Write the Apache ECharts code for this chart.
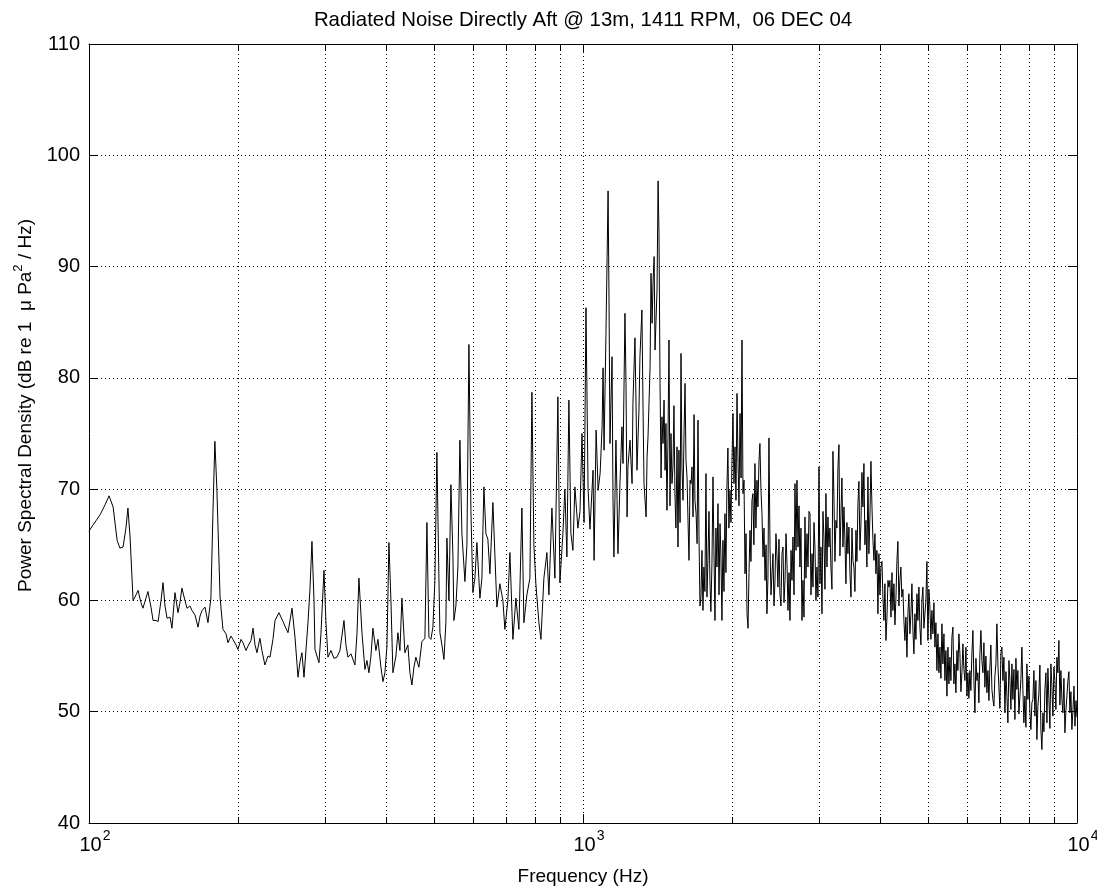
<!DOCTYPE html>
<html>
<head>
<meta charset="utf-8">
<script src="https://cdn.jsdelivr.net/npm/echarts@6/dist/echarts.min.js"></script>
<style>
html,body{margin:0;padding:0;background:#fff;}
#chart{width:1097px;height:890px;}
</style>
</head>
<body>
<div id="chart"></div>
<script>
// ---- Data (frequency in Hz, PSD in dB) ----
const lowBandHz = [100.0,100.9,105.3,107.8,109.8,111.9,114.0,115.5,117.2,118.8,
 119.9,121.1,122.8,123.9,125.7,127.4,128.6,130.4,131.6,133.5,
 134.8,136.7,138.0,139.9,141.2,142.5,143.9,145.9,147.2,149.3,
 151.4,152.8,154.2,156.4,157.9,160.1,161.6,163.9,166.2,167.8,
 169.4,171.7,174.1,176.5,178.2,179.8,181.5,184.2,186.7,189.4,
 191.1,193.8,195.6,198.4,200.2,203.1,205.0,207.9,209.8,212.8,
 214.8,216.8,218.8,221.8,223.9,227.0,230.3,232.5,235.7,238.0,
 242.4,247.0,250.4,252.8,257.6,261.2,264.9,267.4,269.8,272.4,
 277.5,280.1,282.7,285.4,286.7,292.1,294.8,299.0,301.8,304.6,
 308.9,313.2,317.6];
const lowBandDb = [66.2,66.5,67.7,68.6,69.4,68.4,65.4,64.7,64.8,66.5,
 68.3,65.7,60.0,60.3,60.9,59.8,59.3,60.2,60.8,59.4,
 58.2,58.2,58.1,60.0,61.6,59.5,58.4,58.5,57.5,60.7,
 58.9,59.8,61.1,60.0,59.3,59.5,59.1,58.7,57.6,58.6,
 59.1,59.4,58.0,60.2,67.9,74.3,70.0,60.3,57.4,57.0,
 56.2,56.8,56.5,56.0,55.6,56.5,56.2,55.5,55.9,56.4,
 57.5,56.0,55.3,56.6,55.5,54.2,55.0,54.9,56.5,58.2,
 58.9,58.1,57.5,57.1,59.3,56.7,53.1,54.5,55.3,53.1,
 58.0,61.0,65.3,60.0,55.6,54.4,57.0,62.7,58.0,54.9,
 55.5,54.8,54.9];

const midBandHz = [322.1,328.2,331.2,334.3,339.1,345.4,348.7,351.9,356.9,361.9,
 365.3,368.7,372.2,375.6,380.9,384.5,389.9,393.6,397.2,401.0,
 404.7,408.5,412.3,418.1,422.0,426.0,430.0,436.0,442.1,446.3,
 450.5,454.7,458.9,465.4,472.0,478.6,483.1,487.6,492.2,496.8,
 501.4,506.1,510.9,513.3,518.1,523.0,527.8,530.3,535.3,540.3,
 545.4,547.9,553.0,558.2,563.4,568.7,576.7,582.1,587.6,593.1,
 598.6,604.2,609.9,618.5,624.3,627.2,630.1,636.0,641.9,648.0,
 657.1,663.3,669.5,678.9,688.4,694.8,704.6,711.3,721.3,731.4,
 741.7,752.2,759.2,769.9,780.8,788.1,795.4,802.8,814.2,821.9,
 833.4,845.1,853.1,865.1,877.2,889.6,897.9,910.5,919.0,927.7,
 936.4,945.2,954.0,962.9,976.5,986.1,995.3,1005,1014,1024,
 1033];
const midBandDb = [55.5,58.2,56.0,54.9,55.2,54.2,57.0,62.0,57.1,53.8,
 54.6,53.5,55.0,57.5,55.5,56.5,54.0,52.7,53.5,55.9,
 65.2,60.0,53.5,55.0,57.1,55.5,60.2,55.3,56.0,53.5,
 52.4,54.0,54.9,54.0,56.3,56.6,67.0,56.7,56.5,57.6,
 61.8,73.3,62.0,57.1,56.0,54.7,58.0,65.6,60.0,70.4,
 64.0,58.2,59.5,63.0,74.4,66.0,61.7,65.0,83.0,68.0,
 60.7,62.0,65.2,60.2,62.0,66.4,70.2,66.0,65.5,62.4,
 68.8,64.0,59.4,61.5,60.0,57.4,60.0,64.3,56.5,60.2,
 57.4,68.3,58.0,60.5,62.0,78.7,65.0,61.5,58.0,56.5,
 62.0,64.3,60.5,68.3,62.0,78.3,61.6,66.0,70.0,63.9,
 78.0,66.0,64.5,70.2,66.5,68.0,75.0,67.0,86.3,70.0,
 66.4];

const peakBandHz = [1038,1048,1053,1063,1073,1083,1093,1098,1103,1113,
 1119,1124,1129,1134,1145,1150,1155,1166,1172,1177,
 1188,1199,1205,1216,1222,1228,1233,1245,1257,1262,
 1274,1280,1286,1298,1304,1316,1323,1329,1342,1348,
 1354,1367,1373,1380,1386,1393,1399,1412,1419,1425,
 1432,1445,1452,1466,1472,1479,1493,1507,1514,1521,
 1535,1550,1557,1564,1579,1586,1594,1601,1609,1616,
 1624,1632,1639,1647,1655,1662,1670,1678,1685,1694,
 1702,1709,1717,1725,1733,1749,1757,1774,1782,1790,
 1807,1824,1833,1850,1867,1876,1894,1911,1920,1938,
 1956,1965,1984,2002,2012,2031,2050,2060,2079,2098,
 2108,2118,2128,2148,2158,2178,2198,2208,2229,2250,
 2260,2281,2303,2314,2336,2357,2379,2391,2413,2424,
 2447,2470,2481,2504,2528,2540,2564,2588,2600,2624,
 2649,2661,2686,2711,2724,2749,2775,2788,2814,2841,
 2854,2881,2908,2921,2948,2976,2990,3004,3032,3046,
 3074,3103,3118,3147,3176,3206,3221,3251,3282,3297,
 3328,3359,3375,3406,3438,3454,3487,3519,3535,3569,
 3602,3619,3653,3687,3704,3739,3774,3791,3827,3863,
 3881,3917,3954,3972,4010,4047,4066,4104,4143,4162];
const peakBandDb = [66.3,71.7,63.6,75.3,69.9,71.4,75.6,80.9,73.5,84.0,
 90.9,96.8,87.0,74.1,81.9,69.0,63.9,74.4,69.0,64.2,
 70.5,75.6,72.3,85.8,79.5,67.5,72.0,74.4,70.5,77.7,
 83.6,78.0,71.7,77.1,81.9,86.1,77.1,70.5,67.5,72.9,
 74.7,81.0,89.4,84.9,88.5,90.9,82.5,87.9,97.7,93.0,
 79.5,76.5,74.1,71.7,75.9,68.1,83.4,75.0,70.5,72.0,
 69.6,73.8,64.8,73.5,82.2,72.0,69.0,74.7,79.5,72.6,
 71.1,66.9,63.6,70.8,70.5,72.0,67.5,76.7,69.0,67.8,
 65.1,76.2,66.0,59.5,60.3,59.1,63.0,71.4,60.3,63.6,
 61.8,63.3,71.1,58.2,63.0,68.7,66.9,58.2,65.4,67.8,
 70.2,73.7,69.9,72.3,76.8,73.8,78.6,72.3,76.8,83.4,
 69.6,70.8,62.4,58.8,57.5,66.3,69.0,69.6,72.3,70.8,
 68.4,74.1,67.8,63.9,61.8,58.8,74.6,64.8,62.4,64.2,
 61.8,63.9,61.2,60.6,64.2,64.8,61.8,63.3,59.1,58.2,
 61.8,65.7,70.5,70.8,64.8,63.0,58.2,61.8,67.5,66.0,
 63.0,67.8,64.2,61.2,64.8,63.0,60.3,72.0,64.8,58.8,
 65.7,69.6,63.0,64.8,63.0,73.4,69.3,67.2,72.0,74.0,
 67.8,64.8,68.4,61.5,64.2,66.6,60.3,63.6,63.0,66.3,
 68.7,70.7,66.9,68.4,72.3,67.2,71.1,64.2,72.5,65.4,
 63.6,62.4,58.8,64.2,63.0,60.3,58.2,56.4,61.8,61.2];

// Additional fine-scale readings of the dense 1.4-4.1 kHz band
const peakDetailHz = [1439,1459,1486,1500,1528,1542,1572,
 1741,1765,1799,1815,1841,1858,1885,1902,1929,1947,
 1974,1993,2021,2040,2069,2089,2138,2168,2188,2218,
 2239,2271,2292,2325,2347,2368,2402,2436,2458,2493,
 2516,2552,2576,2612,2637,2674,2699,2737,2762,2801,
 2827,2867,2894,2935,2962,3018,3060,3089,3132,3161,
 3191,3236,3266,3312,3343,3390,3422,3470,3503,3552,
 3585,3636,3670,3721,3756,3809,3845,3899,3935,3991,
 4029,4085,4124];
const peakDetailDb = [71.0,78.0,74.5,68.5,77.5,66.5,67.0,
 64.5,60.8,68.0,59.0,64.5,66.5,60.5,64.0,60.8,62.5,
 66.5,67.0,70.5,69.0,68.5,71.0,66.0,62.5,63.5,65.0,
 66.5,72.5,70.0,66.5,65.0,62.0,60.5,59.5,66.0,65.5,
 59.5,59.8,66.0,62.5,64.5,60.5,64.5,68.5,66.5,58.5,
 62.0,68.0,60.5,67.0,60.0,61.5,68.0,61.0,67.5,66.5,
 61.0,63.5,66.5,64.0,71.0,65.5,67.0,62.5,66.5,60.8,
 63.5,64.5,71.5,65.0,63.0,67.5,68.5,66.0,64.5,60.5,
 63.5,61.5,58.5];

const highBandHz = [4182,4240,4320,4340,4380,4421,4463,4484,4526,4547,
 4568,4611,4633,4654,4676,4698,4742,4764,4809,4854,
 4876,4922,4968,4991,5038,5085,5109,5157,5205,5230,
 5278,5328,5353,5403,5454,5479,5530,5582,5608,5661,
 5687,5714,5740,5794,5849,5876,5931,5986,6014,6070,
 6127,6156,6185,6214,6272,6301,6360,6390,6419,6450,
 6510,6571,6602,6663,6726,6757,6789,6852,6884,6916,
 6949,7013,7046,7080,7146,7213,7247,7315,7383,7417,
 7487,7557,7592,7663,7735,7771,7807,7844,7918,7955,
 8066,8104,8142,8218,8295,8334,8373,8451,8491,8531,
 8611,8651,8692,8773,8855,8897,8937,9021,9105,9148,
 9191,9277,9320,9364,9452,9540,9585,9675,9765,9815,
 9907,10000];
const highBandDb = [61.8,59.1,63.6,65.3,61.8,60.3,58.2,56.4,54.9,58.8,
 60.6,58.8,61.5,57.3,55.2,58.8,60.6,58.2,57.6,60.0,
 61.2,58.8,63.5,56.4,59.4,59.1,57.0,55.8,53.7,57.0,
 55.8,57.9,54.3,52.8,51.4,55.8,54.9,56.7,57.6,54.3,
 51.7,55.5,53.7,55.2,53.5,56.1,52.8,51.4,53.5,53.7,
 55.2,57.3,52.8,49.9,52.8,53.5,55.2,57.3,54.6,53.5,
 52.2,51.7,53.7,54.0,52.0,51.1,50.5,54.3,57.9,54.3,
 52.2,55.2,55.8,52.8,49.9,51.4,49.0,52.8,54.3,51.1,
 49.3,52.0,53.7,51.4,55.8,52.0,49.0,51.4,54.3,51.1,
 48.4,50.8,51.1,49.6,47.5,50.5,51.7,48.4,46.6,49.9,
 52.0,53.5,49.0,51.1,54.3,52.2,49.6,52.8,54.9,53.5,
 56.4,53.7,51.1,49.9,48.1,51.4,52.8,49.9,48.4,50.2,
 48.7,49.5];

// Additional fine-scale readings of the dense 4.2-10 kHz band
const highDetailHz = [4202,4221,4260,4280,4300,4360,4400,4442,4505,4589,
 4720,4786,4831,4899,4945,5014,5061,5133,5181,5254,
 5303,5378,5428,5505,5556,5634,5767,5821,5903,5959,
 6042,6098,6243,6330,6480,6540,6633,6694,6820,6981,
 7113,7180,7281,7349,7452,7522,7628,7699,7881,7992,
 8029,8180,8256,8412,8571,8732,8814,8979,9063,9234,
 9408,9496,9630,9720,9861,9953];
const highDetailDb = [58.5,62.5,61.5,57.8,60.2,59.5,63.0,61.0,58.5,57.0,
 56.5,61.2,56.0,57.5,60.0,61.0,56.5,59.8,58.0,53.5,
 53.0,57.0,55.5,52.5,52.8,52.5,57.0,51.8,53.8,55.8,
 51.2,51.9,54.8,50.8,56.2,55.0,51.0,56.0,53.2,50.3,
 54.9,53.6,54.6,50.2,53.8,54.8,49.8,52.9,48.6,53.2,
 50.0,53.7,52.8,54.2,48.2,53.9,48.5,54.0,50.2,50.6,
 53.0,50.1,53.6,51.8,52.3,51.0];

// ---- Axis ticks ----
const xMinorGrid = [200,300,400,500,600,700,800,900,2000,3000,4000,5000,6000,7000,8000,9000];
const yTicks = [40,50,60,70,80,90,100,110];

const titleText = 'Radiated Noise Directly Aft @ 13m, 1411 RPM,  06 DEC 04';
const xName = 'Frequency (Hz)';

// ---- Build series data (merge the readings, ordered by frequency) ----
const spectrum = [];
[[lowBandHz, lowBandDb],[midBandHz, midBandDb],[peakBandHz, peakBandDb],[peakDetailHz, peakDetailDb],
 [highBandHz, highBandDb],[highDetailHz, highDetailDb]]
  .forEach(([hz, db]) => {
    const n = Math.min(hz.length, db.length);
    for (let i = 0; i < n; i++) spectrum.push([hz[i], db[i]]);
  });
spectrum.sort((a, b) => a[0] - b[0]);

const FONT = 'Liberation Sans, Arial, Helvetica, sans-serif';
const chart = echarts.init(document.getElementById('chart'), null, {renderer: 'canvas'});

const dotted = {color: '#000', width: 1, type: [1, 3]};

const option = {
  animation: false,
  backgroundColor: '#fff',
  title: {
    text: titleText,
    left: 578, top: 5, textAlign: 'center',
    textStyle: {fontFamily: FONT, fontSize: 20.4, fontWeight: 'normal', color: '#000'}
  },
  grid: {left: 89, right: 20, top: 44, bottom: 67, containLabel: false, outerBoundsMode: 'none'},
  xAxis: [{
    type: 'log', logBase: 10, min: 100, max: 10000,
    position: 'bottom',
    axisLine: {show: true, onZero: false, lineStyle: {color: '#000', width: 1}},
    axisTick: {show: true, inside: true, length: 9, lineStyle: {color: '#000', width: 1}},
    splitLine: {show: true, lineStyle: dotted},
    axisLabel: {
      margin: 6,
      formatter: v => '{b|10}{s|' + Math.round(Math.log10(v)) + '}',
      rich: {
        b: {fontFamily: FONT, fontSize: 20, color: '#000', lineHeight: 26, verticalAlign: 'bottom', padding: [8, 0, 0, 12]},
        s: {fontFamily: FONT, fontSize: 14, color: '#000', lineHeight: 26, verticalAlign: 'top', padding: [0, 0, 10, 1]}
      }
    },
    name: xName, nameLocation: 'middle', nameGap: 44,
    nameTextStyle: {fontFamily: FONT, fontSize: 19, color: '#000'}
  }, {
    type: 'log', logBase: 10, min: 100, max: 10000,
    position: 'top',
    axisLine: {show: true, onZero: false, lineStyle: {color: '#000', width: 1}},
    axisTick: {show: true, inside: true, length: 9, lineStyle: {color: '#000', width: 1}},
    axisLabel: {show: false},
    splitLine: {show: false}
  }],
  yAxis: [{
    type: 'value', min: 40, max: 110, interval: 10,
    position: 'left',
    axisLine: {show: true, onZero: false, lineStyle: {color: '#000', width: 1}},
    axisTick: {show: true, inside: true, length: 9, lineStyle: {color: '#000', width: 1}},
    splitLine: {show: true, lineStyle: dotted},
    axisLabel: {margin: 9, fontFamily: FONT, fontSize: 20, color: '#000',
      formatter: v => yTicks.indexOf(v) >= 0 ? String(v) : ''},
    name: '{t|Power Spectral Density (dB re 1  \u03BC Pa}{s|2}{t| / Hz)}',
    nameLocation: 'middle', nameGap: 48,
    nameTextStyle: {
      padding: [0, 0, 0, 56],
      rich: {
        t: {fontFamily: FONT, fontSize: 19, color: '#000', lineHeight: 24, verticalAlign: 'bottom'},
        s: {fontFamily: FONT, fontSize: 13, color: '#000', lineHeight: 24, verticalAlign: 'top', padding: [0, 0, 8, 0]}
      }
    }
  }, {
    type: 'value', min: 40, max: 110, interval: 10,
    position: 'right',
    axisLine: {show: true, onZero: false, lineStyle: {color: '#000', width: 1}},
    axisTick: {show: true, inside: true, length: 9, lineStyle: {color: '#000', width: 1}},
    axisLabel: {show: false},
    splitLine: {show: false}
  }],
  series: [{
    type: 'custom',
    name: 'minor grid',
    xAxisIndex: 0, yAxisIndex: 0,
    silent: true, z: 1,
    data: xMinorGrid.map(f => [f, 40]),
    renderItem: (params, api) => {
      const pb = api.coord([api.value(0), 40]);
      const pt = api.coord([api.value(0), 110]);
      const x = Math.round(pb[0]) + 0.5;
      return {
        type: 'group',
        children: [
          {type: 'line', shape: {x1: x, y1: pb[1], x2: x, y2: pt[1]},
            style: {stroke: '#000', lineWidth: 1, lineDash: [1, 3]}},
          {type: 'line', shape: {x1: x, y1: pb[1], x2: x, y2: pb[1] - 6},
            style: {stroke: '#000', lineWidth: 1}},
          {type: 'line', shape: {x1: x, y1: pt[1], x2: x, y2: pt[1] + 6},
            style: {stroke: '#000', lineWidth: 1}}
        ]
      };
    }
  }, {
    type: 'line',
    name: 'PSD',
    xAxisIndex: 0, yAxisIndex: 0,
    data: spectrum,
    showSymbol: false,
    symbol: 'none',
    sampling: false,
    clip: true,
    z: 5,
    lineStyle: {color: '#000', width: 1},
    emphasis: {disabled: true}
  }]
};
chart.setOption(option);
</script>
</body>
</html>
